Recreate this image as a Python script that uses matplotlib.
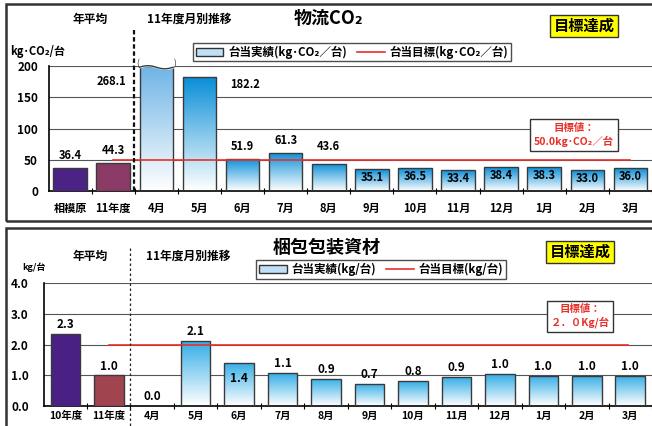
import numpy as np
import matplotlib
matplotlib.use("Agg")
import matplotlib.pyplot as plt
from matplotlib.patches import Rectangle, Patch
from matplotlib.lines import Line2D
from matplotlib.colors import LinearSegmentedColormap

plt.rcParams['font.family'] = ['Noto Sans CJK JP', 'DejaVu Sans']
plt.rcParams['font.weight'] = 'bold'

# ---- data ----
co2_labels = ['相模原', '11年度', '4月', '5月', '6月', '7月', '8月', '9月',
              '10月', '11月', '12月', '1月', '2月', '3月']
co2_values = [36.4, 44.3, 268.1, 182.2, 51.9, 61.3, 43.6, 35.1,
              36.5, 33.4, 38.4, 38.3, 33.0, 36.0]
co2_target = 50.0

pack_labels = ['10年度', '11年度', '4月', '5月', '6月', '7月', '8月', '9月',
               '10月', '11月', '12月', '1月', '2月', '3月']
pack_values = [2.3, 1.0, 0.0, 2.1, 1.4, 1.1, 0.9, 0.7,
               0.8, 0.9, 1.0, 1.0, 1.0, 1.0]
pack_heights = [2.34, 1.0, 0.0, 2.11, 1.40, 1.07, 0.88, 0.72,
                0.81, 0.94, 1.04, 0.98, 0.98, 0.98]
pack_target = 2.0

W, H = 652, 426
fig = plt.figure(figsize=(W / 100, H / 100), dpi=100)


def fx(x):
    return x / W


def fy(y):
    return 1 - y / H


def gradient_bar(ax, x, h, width, top_color, edge='#3a3a3a'):
    x0 = x - width / 2
    rect = Rectangle((x0, 0), width, h, facecolor='none', edgecolor=edge,
                     lw=1.0, zorder=3)
    ax.add_patch(rect)
    cmap = LinearSegmentedColormap.from_list('g', ['white', top_color])
    grad = np.linspace(0, 1, 100).reshape(-1, 1)
    im = ax.imshow(grad, extent=[x0, x0 + width, 0, h], origin='lower',
                   aspect='auto', cmap=cmap, zorder=2)
    im.set_clip_path(rect)


def style_axes(ax, n, ymax, yticks, fmt):
    ax.set_xlim(-0.49, n - 0.5)
    ax.set_ylim(0, ymax)
    ax.set_yticks(yticks)
    ax.set_yticklabels([fmt.format(t) for t in yticks], fontsize=8.5)
    ax.tick_params(axis='y', length=0, pad=8)
    ax.set_xticks(np.arange(n) + 0.5, minor=True)
    ax.tick_params(axis='x', which='minor', direction='inout', length=4,
                   width=0.8)
    ax.tick_params(axis='x', which='major', length=0, labelsize=8, pad=8)
    for s in ['top', 'right']:
        ax.spines[s].set_visible(False)
    ax.spines['left'].set_linewidth(1.2)
    ax.spines['bottom'].set_linewidth(1.2)
    for t in yticks[1:]:
        ax.axhline(t, color='#555555', lw=0.8, zorder=1)
    ax.patch.set_alpha(0)


# ---- panel frames ----
fig.patches.append(Rectangle((fx(6), fy(221)), fx(660) - fx(6), fy(4) - fy(221),
                             transform=fig.transFigure, fill=False,
                             edgecolor='#333333', lw=1.8))
fig.patches.append(Rectangle((fx(6), fy(440)), fx(660) - fx(6), fy(228) - fy(440),
                             transform=fig.transFigure, fill=False,
                             edgecolor='#333333', lw=1.8))

# ================= top: 物流CO2 =================
ax1 = fig.add_axes([fx(49), fy(191), fx(652) - fx(49), fy(66) - fy(191)])
n = len(co2_values)
x = np.arange(n)
ymax1 = 200
width = 0.78
ax1.bar(x[0], co2_values[0], width, color='#4a2384', edgecolor='#3a3a3a',
        lw=1.0, zorder=3)
ax1.bar(x[1], co2_values[1], width, color='#8a3a64', edgecolor='#3a3a3a',
        lw=1.0, zorder=3)
for i in range(2, n):
    top = '#6fb4e6' if co2_values[i] > ymax1 else '#0a8fd8'
    gradient_bar(ax1, x[i], min(co2_values[i], ymax1), width, top)
# break mark on the clipped bar
for i in range(2, n):
    if co2_values[i] > ymax1:
        xs = np.linspace(x[i] - width / 2, x[i] + width / 2, 40)
        ys = ymax1 - 2 + 2.5 * np.sin((xs - xs[0]) / width * 2 * np.pi)
        ax1.plot(xs, ys, color='#3a3a3a', lw=1.0, zorder=4, clip_on=False)
        ax1.fill_between(xs, ys, ymax1 + 5, color='white', zorder=3.5,
                         clip_on=False)
        ax1.text(x[i] - width / 2 - 0.05, ymax1 + 3, '(', fontsize=6,
                 ha='center', va='center', fontweight='normal', color='#333333')
        ax1.text(x[i] + width / 2 + 0.05, ymax1 + 3, ')', fontsize=6,
                 ha='center', va='center', fontweight='normal', color='#333333')
ax1.plot([1, n - 1], [co2_target, co2_target], color='#e8302a', lw=1.2, zorder=4)

style_axes(ax1, n, ymax1, [0, 50, 100, 150, 200], '{:.0f}')
ax1.set_xticks(x)
ax1.set_xticklabels(co2_labels)

# value labels
for i, v in enumerate(co2_values):
    if v > ymax1:
        ax1.text(x[i] - 1.05, 175, f'{v:.1f}', ha='center', va='center', fontsize=8)
    elif v > 150:
        ax1.text(x[i] + 1.05, 171, f'{v:.1f}', ha='center', va='center', fontsize=8)
    elif i >= 7:
        ax1.text(x[i], v - 13, f'{v:.1f}', ha='center', va='center', fontsize=8, zorder=5)
    else:
        ax1.text(x[i], v + 20 if i != 6 else v + 27, f'{v:.1f}', ha='center',
                 va='center', fontsize=8)

leg1 = ax1.legend([Patch(facecolor='#bfe0f6', edgecolor='#333333'),
                   Line2D([], [], color='#e8302a', lw=1.2)],
                  ['台当実績(kg･CO₂／台)', '台当目標(kg･CO₂／台)'],
                  ncol=2, loc='center', bbox_to_anchor=(fx(352), fy(52)),
                  bbox_transform=fig.transFigure, fontsize=8.3, frameon=True,
                  fancybox=False, edgecolor='#222222', handlelength=2.4,
                  handleheight=0.7, columnspacing=0.9, borderpad=0.25,
                  handletextpad=0.4)
leg1.get_frame().set_linewidth(1.0)

fig.text(fx(10), fy(52), 'kg･CO₂/台', fontsize=8, ha='left', va='center')
fig.text(fx(90), fy(19), '年平均', fontsize=8.5, ha='center', va='center')
fig.text(fx(189), fy(19), '11年度月別推移', fontsize=8.5, ha='center', va='center')
fig.text(fx(328), fy(19), '物流CO₂', fontsize=13, ha='center', va='center')
fig.text(fx(584), fy(26), '目標達成', fontsize=11, ha='center', va='center',
         bbox=dict(boxstyle='square,pad=0.22', facecolor='#ffff00',
                   edgecolor='#333333', lw=1.0))
fig.text(fx(574), fy(135), '目標値：\n50.0kg･CO₂／台', fontsize=7.5,
         color='#e8302a', ha='center', va='center', linespacing=1.3,
         bbox=dict(boxstyle='square,pad=0.35', facecolor='white',
                   edgecolor='#333333', lw=1.0))
fig.lines.append(Line2D([fx(134), fx(134)], [fy(30), fy(193)],
                        transform=fig.transFigure, color='#111111', lw=1.6,
                        linestyle=(0, (2, 1.2))))

# ================= bottom: 梱包包装資材 =================
ax2 = fig.add_axes([fx(44), fy(406), fx(652) - fx(44), fy(283) - fy(406)])
n2 = len(pack_values)
x2 = np.arange(n2)
width2 = 0.68
ax2.bar(x2[0], pack_heights[0], width2, color='#4a2084', edgecolor='#3a3a3a',
        lw=1.0, zorder=3)
ax2.bar(x2[1], pack_heights[1], width2, color='#a04550', edgecolor='#3a3a3a',
        lw=1.0, zorder=3)
for i in range(2, n2):
    if pack_heights[i] > 0:
        gradient_bar(ax2, x2[i], pack_heights[i], width2, '#35aee6')
ax2.plot([1, n2 - 1.05], [pack_target, pack_target], color='#e8302a', lw=1.2, zorder=4)

style_axes(ax2, n2, 4.0, [0.0, 1.0, 2.0, 3.0, 4.0], '{:.1f}')
ax2.tick_params(axis='y', pad=11)
ax2.tick_params(axis='x', which='major', pad=3.5, labelsize=7.5)
ax2.set_xticks(x2)
ax2.set_xticklabels(pack_labels)

for i, v in enumerate(pack_values):
    if i == 4:
        ax2.text(x2[i], pack_heights[i] - 0.5, f'{v:.1f}', ha='center',
                 va='center', fontsize=8.5, zorder=5)
    else:
        ax2.text(x2[i], pack_heights[i] + 0.3, f'{v:.1f}', ha='center',
                 va='center', fontsize=8.5, zorder=5)

leg2 = ax2.legend([Patch(facecolor='#bfe0f6', edgecolor='#333333'),
                   Line2D([], [], color='#e8302a', lw=1.2)],
                  ['台当実績(kg/台)', '台当目標(kg/台)'],
                  ncol=2, loc='center', bbox_to_anchor=(fx(381), fy(269.5)),
                  bbox_transform=fig.transFigure, fontsize=8.3, frameon=True,
                  fancybox=False, edgecolor='#222222', handlelength=2.4,
                  handleheight=0.7, columnspacing=0.9, borderpad=0.25,
                  handletextpad=0.4)
leg2.get_frame().set_linewidth(1.0)

fig.text(fx(22), fy(267), 'kg/台', fontsize=6.5, ha='left', va='center')
fig.text(fx(90), fy(256), '年平均', fontsize=8.5, ha='center', va='center')
fig.text(fx(188), fy(256), '11年度月別推移', fontsize=8.5, ha='center', va='center')
fig.text(fx(327), fy(247), '梱包包装資材', fontsize=13, ha='center', va='center')
fig.text(fx(580), fy(252), '目標達成', fontsize=11, ha='center', va='center',
         bbox=dict(boxstyle='square,pad=0.22', facecolor='#ffff00',
                   edgecolor='#333333', lw=1.0))
fig.text(fx(580), fy(316), '目標値：\n２．０Kg/台', fontsize=7.5,
         color='#e8302a', ha='center', va='center', linespacing=1.3,
         bbox=dict(boxstyle='square,pad=0.35', facecolor='white',
                   edgecolor='#333333', lw=1.0))
fig.lines.append(Line2D([fx(130), fx(130)], [fy(248), fy(426)],
                        transform=fig.transFigure, color='#222222', lw=0.9,
                        linestyle=(0, (2, 2))))

fig.savefig('out.png', dpi=100)
